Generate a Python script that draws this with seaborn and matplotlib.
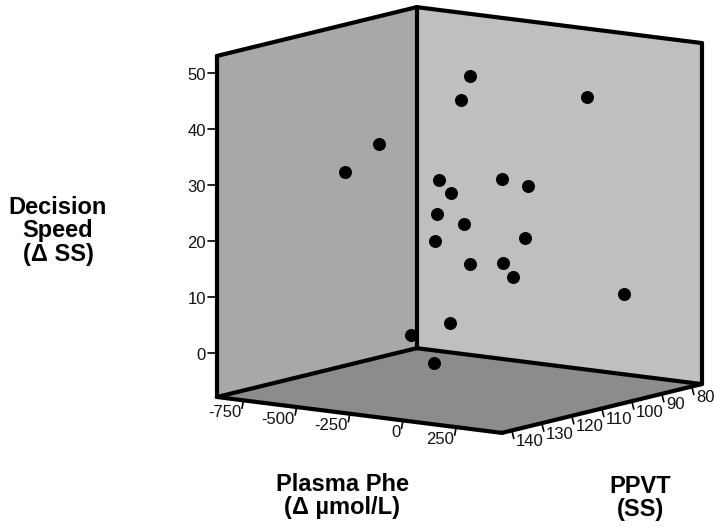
import pandas as pd
import matplotlib
matplotlib.use("Agg")
import matplotlib.pyplot as plt
import seaborn as sns

# values
plasma_phe = [-155, -126, 254, -441, -531, -188, -216, -76, 90, -141,
              -181, -124, -9, -70, -54, -39, 360, -23, -150, -72]
ppvt = [110, 115, 100, 120, 125, 118, 112, 105, 108, 122,
        110, 124, 102, 116, 106, 104, 95, 126, 130, 128]
decision_speed = [48.42, 45.10, 45.49, 36.30, 31.53, 30.91, 27.67, 29.75, 29.86, 25.50,
                  21.95, 21.11, 19.23, 16.13, 15.16, 12.38, 10.08, 7.04, 4.90, 0.01]

phe_ticks = [-750, -500, -250, 0, 250]
ppvt_ticks = [140, 130, 120, 110, 100, 90, 80]
speed_ticks = [0, 10, 20, 30, 40, 50]

PHE_MIN, PHE_MAX = -875, 465
PPVT_FRONT, PPVT_BACK = 143.3, 76.7
SPEED_MIN, SPEED_MAX = -7.9, 53


def project(phe, pp, speed):
    """Oblique projection of the 3d box on to the page, in pixels."""
    d = PPVT_FRONT - pp
    x = 403 + 0.2127 * phe + 3.0 * d
    y = 376.2 + 0.0268 * phe - 0.733 * d - 5.6 * speed
    return x, y


sns.set_theme(style="white")
plt.rcParams["font.family"] = ["Liberation Sans", "DejaVu Sans"]

fig = plt.figure(figsize=(7.14, 5.27), dpi=100)
ax = fig.add_axes([0, 0, 1, 1])

# corners
lf_b = project(PHE_MIN, PPVT_FRONT, SPEED_MIN)
lf_t = project(PHE_MIN, PPVT_FRONT, SPEED_MAX)
bk_b = project(PHE_MIN, PPVT_BACK, SPEED_MIN)
bk_t = project(PHE_MIN, PPVT_BACK, SPEED_MAX)
rt_b = project(PHE_MAX, PPVT_BACK, SPEED_MIN)
rt_t = project(PHE_MAX, PPVT_BACK, SPEED_MAX)
fr_b = project(PHE_MAX, PPVT_FRONT, SPEED_MIN)

ax.fill(*zip(lf_b, lf_t, bk_t, bk_b), color="#a8a8a8", lw=0, zorder=1)
ax.fill(*zip(bk_b, bk_t, rt_t, rt_b), color="#bfbfbf", lw=0, zorder=1)
ax.fill(*zip(lf_b, bk_b, rt_b, fr_b), color="#8c8c8c", lw=0, zorder=1)

df = pd.DataFrame({"phe": plasma_phe, "ppvt": ppvt, "speed": decision_speed})
df["px"], df["py"] = project(df["phe"], df["ppvt"], df["speed"])
sns.scatterplot(data=df, x="px", y="py", color="black", s=88, linewidth=0, ax=ax, zorder=3)
ax.set_xlim(0, 714)
ax.set_ylim(527, 0)
ax.axis("off")

for a, b in [(lf_b, lf_t), (lf_t, bk_t), (bk_t, rt_t), (rt_t, rt_b), (bk_b, bk_t),
             (lf_b, bk_b), (bk_b, rt_b), (lf_b, fr_b), (fr_b, rt_b)]:
    ax.plot([a[0], b[0]], [a[1], b[1]], color="black", lw=3.0,
            solid_capstyle="round", zorder=4)

# ticks
for v in speed_ticks:
    x, y = project(PHE_MIN, PPVT_FRONT, v)
    ax.plot([x - 9, x], [y, y], color="black", lw=1.2, zorder=2)
    ax.text(x - 11, y + 3, str(v), ha="right", va="center", fontsize=12, color="#111111")

for v in phe_ticks:
    x, y = project(v, PPVT_FRONT, SPEED_MIN)
    ax.plot([x, x - 1.5], [y, y + 8], color="black", lw=1.2, zorder=2)
    ax.text(x - 2, y + 12, str(v), ha="right", va="center", fontsize=12, color="#111111")

for v in ppvt_ticks:
    x, y = project(PHE_MAX, v, SPEED_MIN)
    ax.plot([x, x + 2], [y, y + 8], color="black", lw=1.2, zorder=2)
    ax.text(x + 4, y + 11, str(v), ha="left", va="center", fontsize=12, color="#111111")

# axis titles
title_kw = dict(ha="center", va="center", fontsize=17, fontweight="bold",
                color="black", linespacing=1.0)
ax.text(58, 231, "Decision\nSpeed\n(\u0394 SS)", **title_kw)
ax.text(342, 496, "Plasma Phe\n(\u0394 \u00b5mol/L)", **title_kw)
ax.text(640, 498, "PPVT\n(SS)", **title_kw)

fig.savefig("out.png", dpi=100)
